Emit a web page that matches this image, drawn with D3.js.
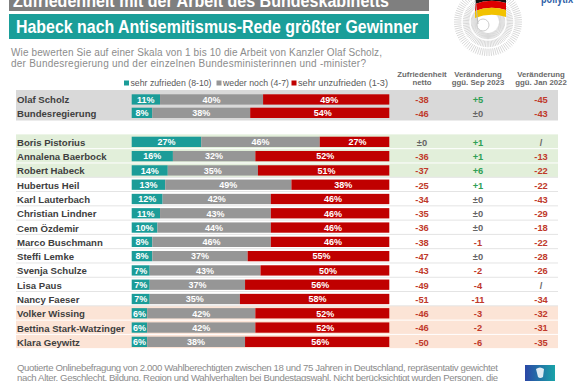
<!DOCTYPE html>
<html><head><meta charset="utf-8">
<script src="https://cdn.jsdelivr.net/npm/d3@7"></script>
<style>html,body{margin:0;padding:0;background:#fff;overflow:hidden}svg{display:block;font-family:"Liberation Sans",Arial,sans-serif}</style>
</head><body><svg id="c" width="574" height="381"></svg>
<script>
const names = ["Olaf Scholz","Bundesregierung","Boris Pistorius","Annalena Baerbock","Robert Habeck","Hubertus Heil","Karl Lauterbach","Christian Lindner","Cem Özdemir","Marco Buschmann","Steffi Lemke","Svenja Schulze","Lisa Paus","Nancy Faeser","Volker Wissing","Bettina Stark-Watzinger","Klara Geywitz"];
const satisfied = [11,8,27,16,14,13,12,11,10,8,8,7,7,7,6,6,6];
const neutral = [40,38,46,32,35,49,42,43,44,46,37,43,37,35,42,42,38];
const dissatisfied = [49,54,27,52,51,38,46,46,46,46,55,50,56,58,52,52,56];
const netto = ["-38","-46","±0","-36","-37","-25","-34","-35","-36","-38","-47","-43","-49","-51","-46","-46","-50"];
const changeSep2023 = ["+5","±0","+1","+1","+6","+1","±0","±0","±0","-1","±0","-2","-4","-11","-3","-2","-6"];
const changeJan2022 = ["-45","-43","/","-13","-22","-22","-43","-29","-18","-22","-28","-26","/","-34","-32","-31","-35"];
const seriesNames = ["sehr zufrieden (8-10)","weder noch (4-7)","sehr unzufrieden (1-3)"];
const columnHeaders = [["Zufriedenheit","netto"],["Veränderung","ggü. Sep 2023"],["Veränderung","ggü. Jan 2022"]];

const svg = d3.select("#c");
const colors = ["#1b9c98","#969696","#c00000"];
const x = d3.scaleLinear().domain([0,100]).range([131.7,389.3]);
const yTop = d3.scaleLinear().domain([0,1]).range([94.3,107.7]);
const yGrp = d3.scaleLinear().domain([2,16]).range([136.7,336.7]);
const barY = i => i < 2 ? yTop(i) : yGrp(i);
const barH = 10.3;
const rowStep = 14.29;

// banners
svg.append("rect").attr("x",9).attr("y",-2).attr("width",420).attr("height",13).attr("fill","#7f7f7f");
svg.append("text").attr("x",13).attr("y",7).attr("fill","#fff").attr("font-weight","bold").attr("font-size",18)
  .attr("textLength",376).attr("lengthAdjust","spacingAndGlyphs").text("Zufriedenheit mit der Arbeit des Bundeskabinetts");
svg.append("rect").attr("x",9).attr("y",14).attr("width",420).attr("height",25).attr("fill","#1a9e99");
svg.append("text").attr("x",16).attr("y",33).attr("fill","#fff").attr("font-weight","bold").attr("font-size",18.5)
  .attr("textLength",402).attr("lengthAdjust","spacingAndGlyphs").text("Habeck nach Antisemitismus-Rede größter Gewinner");

// logo top right (parliament fan + flag)
const lg = svg.append("g");
const cx = 488, cy = 22;
d3.range(-100, 262, 4).forEach(a => {
  const r = a*Math.PI/180;
  lg.append("line").attr("x1",cx+11*Math.cos(r)).attr("y1",cy+11*Math.sin(r))
    .attr("x2",cx+34*Math.cos(r)).attr("y2",cy+34*Math.sin(r)).attr("stroke","#d4d4d4").attr("stroke-width",0.9);
});
[18,26].forEach(rr => lg.append("circle").attr("cx",cx).attr("cy",cy).attr("r",rr).attr("fill","none").attr("stroke","#fff").attr("stroke-width",1.5));
lg.append("circle").attr("cx",483).attr("cy",25).attr("r",6).attr("fill","#fff").attr("stroke","#ccc");
const flag = [["#111",-6,1],["#d00",1,8],["#f2c200",8,15]];
flag.forEach(([c,a,b]) => lg.append("path")
  .attr("d",`M475,${a+3} Q490,${a-3} 506,${a+2} L506,${b+2} Q490,${b-3} 475,${b+3}Z`).attr("fill",c));
lg.append("line").attr("x1",475).attr("y1",-2).attr("x2",478).attr("y2",24).attr("stroke","#bbb").attr("stroke-width",1);
svg.append("text").attr("x",541).attr("y",3).attr("fill","#2f5fa8").attr("font-weight","bold").attr("font-size",12)
  .attr("textLength",32).attr("lengthAdjust","spacingAndGlyphs").text("pollytix");

// question
const q = ["Wie bewerten  Sie auf einer Skala von 1 bis 10 die Arbeit von Kanzler Olaf Scholz,",
           "der Bundesregierung und der einzelnen Bundesministerinnen und -minister?"];
const qW = [371, 355];
q.forEach((t,i) => svg.append("text").attr("x",11).attr("y",56+i*11).attr("font-size",10).attr("fill","#8c8c8c")
  .attr("textLength",qW[i]).attr("lengthAdjust","spacing").text(t));

// legend
const legX = [124, 216.5, 291.5];
const legW = [81, 66, 90];
seriesNames.forEach((s,i) => {
  svg.append("rect").attr("x",legX[i]).attr("y",80.5).attr("width",5).attr("height",5).attr("fill",colors[i]);
  svg.append("text").attr("x",legX[i]+6.5).attr("y",85.5).attr("font-size",9.3).attr("fill","#595959")
    .attr("textLength",legW[i]).attr("lengthAdjust","spacingAndGlyphs").text(s);
});

// column headers
const colX = [422, 478, 541];
columnHeaders.forEach((h,i) => h.forEach((t,j) =>
  svg.append("text").attr("x",colX[i]).attr("y",76.5+j*8).attr("text-anchor","middle").attr("font-size",7.8)
    .attr("font-weight","bold").attr("fill","#6a6a6a").text(t)));

// backgrounds
svg.append("rect").attr("x",16).attr("y",90).attr("width",542).attr("height",30.5).attr("fill","#d9d9d9");
const rowTop = i => barY(i) - 2.3;
svg.append("rect").attr("x",16).attr("y",rowTop(2)).attr("width",542).attr("height",3*rowStep).attr("fill","#e2efda");
svg.append("rect").attr("x",16).attr("y",rowTop(14)).attr("width",542).attr("height",3*rowStep).attr("fill","#fce4d6");
// separators
d3.range(3,17).forEach(i => {
  const inColor = (i <= 4) || (i >= 15);
  svg.append("line").attr("x1",16).attr("x2",558).attr("y1",rowTop(i)).attr("y2",rowTop(i))
    .attr("stroke", inColor ? "#ffffff" : "#e4e4e4").attr("stroke-width",1);
});
svg.append("line").attr("x1",16).attr("x2",558).attr("y1",rowTop(16)+rowStep).attr("y2",rowTop(16)+rowStep).attr("stroke","#fff");

// bars
const stacks = names.map((n,i) => {
  const v = [satisfied[i], neutral[i], dissatisfied[i]];
  let c = 0;
  return v.map((d,k) => { const s = {i, k, x0:c, x1:c+d, v:d}; c += d; return s; });
}).flat();
svg.append("g").selectAll("rect").data(stacks).join("rect")
  .attr("x",d => x(d.x0)).attr("width",d => x(d.x1)-x(d.x0))
  .attr("y",d => barY(d.i)).attr("height",barH).attr("fill",d => colors[d.k]);
svg.append("g").selectAll("text").data(stacks).join("text")
  .attr("x",d => (x(d.x0)+x(d.x1))/2 + (d.k===2 ? 3 : 0)).attr("y",d => barY(d.i)+barH/2+3.3)
  .attr("text-anchor","middle").attr("font-size",9).attr("font-weight","bold").attr("fill","#fff")
  .text(d => d.v + "%");

// row labels
svg.append("g").selectAll("text").data(names).join("text")
  .attr("x",17).attr("y",(d,i) => barY(i)+barH/2+4).attr("font-size",9.6).attr("font-weight","bold")
  .attr("fill","#404040").text(d => d);

// value columns
const col = v => {
  if (v === "±0" || v === "/") return "#666666";
  if (v.startsWith("+")) return "#2fa055";
  return "#c0392b";
};
[netto, changeSep2023, changeJan2022].forEach((arr,c) =>
  svg.append("g").selectAll("text").data(arr).join("text")
    .attr("x",colX[c]).attr("y",(d,i) => barY(i)+barH/2+3.8).attr("text-anchor","middle")
    .attr("font-size",9.3).attr("font-weight","bold").attr("fill",d => col(d)).text(d => d));

// footer
const foot = ["Quotierte Onlinebefragung von 2.000 Wahlberechtigten zwischen 18 und 75 Jahren in Deutschland, repräsentativ gewichtet",
              "nach Alter, Geschlecht, Bildung, Region und Wahlverhalten bei Bundestagswahl. Nicht berücksichtigt wurden Personen, die"];
foot.forEach((t,i) => svg.append("text").attr("x",17).attr("y",370.5+i*10).attr("font-size",9.6).attr("fill","#8c8c8c")
  .attr("textLength",481).attr("lengthAdjust","spacing").text(t));

// bottom-right logo
const defs = svg.append("defs");
const gr = defs.append("linearGradient").attr("id","lg1").attr("x1","0").attr("x2","1");
gr.append("stop").attr("offset","0").attr("stop-color","#2b47a6");
gr.append("stop").attr("offset","1").attr("stop-color","#19a3a8");
svg.append("rect").attr("x",525).attr("y",365).attr("width",30).attr("height",18).attr("fill","url(#lg1)");
svg.append("path").attr("d","M536,369 Q540,366 544,369 L543,377 Q540,379 538,377Z").attr("fill","#fff").attr("opacity",0.85);
</script></body></html>
